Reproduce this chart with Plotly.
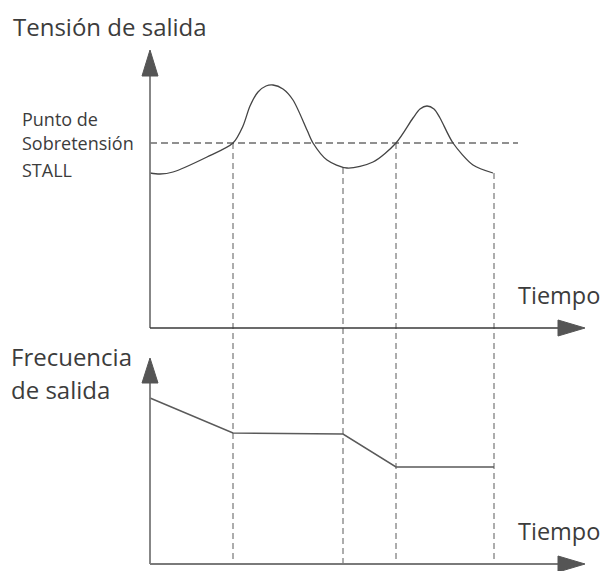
import plotly.graph_objects as go

# time axis: 0 at the vertical axes, one unit per pixel
# voltage curve (top panel)
v_time = [0, 10, 23, 57, 83, 93, 100, 108, 116, 123, 133, 143, 157, 163, 177, 197, 223, 246, 263, 270, 277, 284, 290, 303, 323, 343]
v_value = [155, 154, 156, 171, 185, 202, 222, 236, 242, 243, 239, 228, 198, 185, 168, 160, 166, 185, 210, 219, 222, 219, 210, 185, 163, 155]

# stall over-voltage threshold
stall_level = 185

# frequency (bottom panel)
f_time = [0, 83, 193, 246, 344]
f_value = [166, 131, 130, 97, 97]

# instants marked with dashed guides, and where each guide starts on the voltage curve
mark_time = [83, 193, 246, 344]
mark_top = [185, 160, 185, 155]

GRAY = "#7a7a7a"
DARK = "#3a3a3a"
TEXT = "#3c3c3c"
FONT = "Open Sans"

# the two panels share x; the voltage axis sits 236 px above the frequency axis
PANEL_GAP = 236
AX_LEN = 408
AX_TIP = 435
V_TOP, V_TIP = 252, 278
F_TOP, F_TIP = 181, 206
HEAD = 8

fig = go.Figure()


def line(x, y, color, width=1.3, dash=None, yaxis="y"):
    fig.add_trace(go.Scatter(x=x, y=y, mode="lines", yaxis=yaxis, hoverinfo="skip",
                             line=dict(color=color, width=width, dash=dash, shape="linear")))


def tri(x, y, yaxis="y"):
    fig.add_trace(go.Scatter(x=x, y=y, mode="lines", fill="toself", fillcolor="#555555",
                             yaxis=yaxis, hoverinfo="skip", line=dict(color="#555555", width=1)))


# dashed guides through both panels
for t, top in zip(mark_time, mark_top):
    line([t, t], [top, -PANEL_GAP], "#5a5a5a", 1, "6px,4px")

# threshold
line([0, 368], [stall_level, stall_level], "#222222", 1.2, "7px,4px")

# voltage curve
fig.add_trace(go.Scatter(x=v_time, y=v_value, mode="lines", hoverinfo="skip",
                         line=dict(color="#444444", width=1.3, shape="spline", smoothing=0.8)))

# frequency
line(f_time, f_value, "#5a5a5a", 1.5, yaxis="y2")

# axes with arrow heads
line([0, 0], [0, V_TOP], GRAY, 1.8)
line([0, AX_LEN], [0, 0], DARK, 1.3)
tri([-HEAD, HEAD, 0, -HEAD], [V_TOP, V_TOP, V_TIP, V_TOP])
tri([AX_LEN, AX_LEN, AX_TIP, AX_LEN], [-HEAD, HEAD, 0, -HEAD])

line([0, 0], [0, F_TOP], GRAY, 1.8, yaxis="y2")
line([0, AX_LEN], [0, 0], GRAY, 1.8, yaxis="y2")
tri([-HEAD, HEAD, 0, -HEAD], [F_TOP, F_TOP, F_TIP, F_TOP], yaxis="y2")
tri([AX_LEN, AX_LEN, AX_TIP, AX_LEN], [-HEAD, HEAD, 0, -HEAD], yaxis="y2")


def label(text, x, y, size, yref="y", xanchor="left"):
    fig.add_annotation(x=x, y=y, xref="x", yref=yref, text=text, showarrow=False,
                       xanchor=xanchor, yanchor="middle", align="left",
                       font=dict(family=FONT, size=size, color=TEXT))


label("Tensión de salida", -139, 302, 24)
label("Punto de", -130, 209, 18)
label("Sobretensión", -130, 185, 18)
label("STALL", -130, 158, 18)
label("Tiempo", 366, 33, 23.5)
label("Frecuencia", -141, 208, 24, yref="y2")
label("de salida", -141, 175, 24, yref="y2")
label("Tiempo", 366, 33, 23.5, yref="y2")

# the page body has an 8 px margin, so the figure is 8 px smaller and the ranges start 8 px in
fig.update_layout(
    width=600,
    height=563,
    margin=dict(l=0, r=0, t=0, b=0),
    showlegend=False,
    plot_bgcolor="white",
    paper_bgcolor="white",
    xaxis=dict(range=[-142, 458], visible=False, fixedrange=True),
    yaxis=dict(range=[-243, 320], visible=False, fixedrange=True),
    yaxis2=dict(range=[-7, 556], visible=False, overlaying="y", fixedrange=True),
)

fig.write_html("out.html")
